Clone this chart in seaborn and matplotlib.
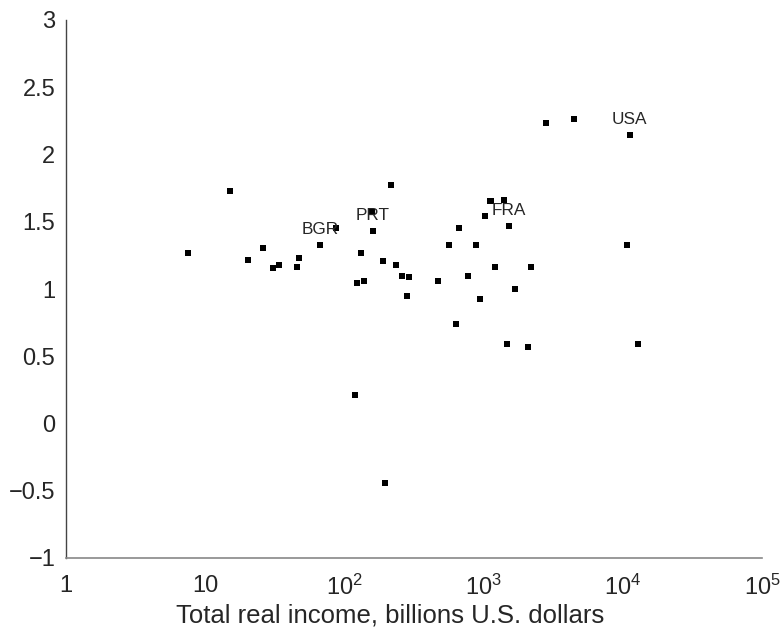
import numpy as np
import pandas as pd
import matplotlib
matplotlib.use("Agg")
import matplotlib.pyplot as plt
import seaborn as sns

# Data
income = [7.55, 15.1, 20.4, 26.1, 30.8, 34.0, 45.8, 47.3, 66.9, 87.6,
          131.8, 123.4, 138.5, 160.7, 158.1, 215.4, 189.6, 235.0, 260.8, 291.3,
          281.8, 118.8, 196.0,
          1125, 1401, 1023, 666, 1522, 564.5, 881, 10690, 1207, 2188,
          772, 470.6, 1680, 942, 634, 1472, 2083, 12830, 2806, 4456, 11250]
value = [1.270, 1.731, 1.218, 1.307, 1.158, 1.181, 1.166, 1.233, 1.329, 1.456,
         1.270, 1.047, 1.062, 1.433, 1.575, 1.775, 1.210, 1.181, 1.099, 1.091,
         0.950, 0.212, -0.440,
         1.657, 1.662, 1.545, 1.456, 1.471, 1.327, 1.327, 1.329, 1.166, 1.166,
         1.099, 1.057, 1.002, 0.928, 0.742, 0.593, 0.569, 0.593, 2.236, 2.266, 2.147]
label_names = ["BGR", "PRT", "FRA", "USA"]
label_x = [66.9, 160.7, 1522, 11250]
label_y = [1.329, 1.433, 1.471, 2.147]

x_ticks = [1, 10, 100, 1000, 10000, 100000]
x_ticklabels = ["1", "10", r"$\mathregular{10^2}$", r"$\mathregular{10^3}$",
                r"$\mathregular{10^4}$", r"$\mathregular{10^5}$"]
y_ticks = [-1, -0.5, 0, 0.5, 1, 1.5, 2, 2.5, 3]
y_ticklabels = ["\u22121", "\u22120.5", "0", "0.5", "1", "1.5", "2", "2.5", "3"]
x_title = "Total real income, billions U.S. dollars"

sns.set_style("white")
plt.rcParams["font.family"] = ["Liberation Sans", "DejaVu Sans"]
plt.rcParams["mathtext.fontset"] = "custom"
plt.rcParams["mathtext.rm"] = "Liberation Sans"

df = pd.DataFrame({"income": income, "value": value})

fig = plt.figure(figsize=(7.81, 6.41), dpi=100)
ax_left, ax_right = 65.7, 762.0
ax = fig.add_axes([ax_left / 781, 1 - 558 / 641, (ax_right - ax_left) / 781, (558 - 20) / 641])

sns.scatterplot(data=df, x="income", y="value", ax=ax, marker="s", s=20,
                color="black", edgecolor="none", linewidth=0, legend=False)

ax.set_xscale("log")
ax.set_xlim(1, 100000)
ax.set_ylim(-1, 3)
ax.set_xticks(x_ticks)
ax.set_xticklabels(x_ticklabels)
ax.set_yticks(y_ticks)
ax.set_yticklabels(y_ticklabels)
ax.minorticks_off()
ax.tick_params(axis="both", length=0, labelsize=17, labelcolor="#262626")
ax.tick_params(axis="x", pad=12)
ax.tick_params(axis="y", pad=7.5)
ax.set_xlabel(x_title, fontsize=18.5, color="#262626")
ax.xaxis.set_label_coords((390.5 - ax_left) / (ax_right - ax_left), -0.085)
ax.set_ylabel("")

for sp in ["top", "right"]:
    ax.spines[sp].set_visible(False)
ax.spines["left"].set_color("#444444")
ax.spines["bottom"].set_color("#888888")
ax.spines["left"].set_linewidth(1.0)
ax.spines["bottom"].set_linewidth(1.2)

for name, lx, ly in zip(label_names, label_x, label_y):
    ax.annotate(name, (lx, ly), xytext=(0, 11), textcoords="offset points",
                ha="center", va="center", fontsize=12.4, color="#262626")

fig.savefig("out.png", dpi=100)
